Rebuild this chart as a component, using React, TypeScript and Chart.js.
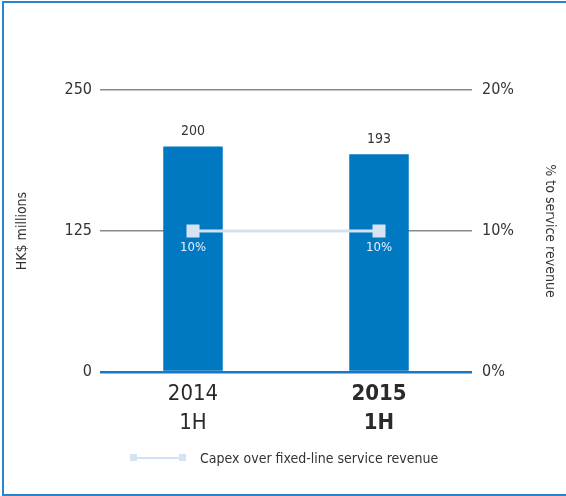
import React, { useEffect, useRef } from "react";
import { Chart, registerables } from "chart.js";

Chart.register(...registerables);

const categories: string[][] = [["2014", "1H"], ["2015", "1H"]];
const capexValues: number[] = [200, 193];
const ratioValues: number[] = [10, 10];
const leftTicks: number[] = [0, 125, 250];
const rightTicks: number[] = [0, 10, 20];
const leftTitle = "HK$ millions";
const rightTitle = "% to service revenue";
const legendLabel = "Capex over fixed-line service revenue";

const FONT = "'Liberation Sans Narrow', 'DejaVu Sans Condensed', 'Roboto', sans-serif";
const BLUE = "#0079c2";
const LINE = "#d3e1f2";
const TEXT = "#333333";

const labelPlugin = {
  id: "valueLabels",
  afterDatasetsDraw(chart: any) {
    const ctx = chart.ctx;
    ctx.save();
    const barMeta = chart.getDatasetMeta(0);
    ctx.fillStyle = TEXT;
    ctx.font = `14px ${FONT}`;
    ctx.textAlign = "center";
    ctx.textBaseline = "bottom";
    barMeta.data.forEach((el: any, i: number) => {
      ctx.fillText(String(capexValues[i]), el.x, el.y - 8);
    });
    const lineMeta = chart.getDatasetMeta(1);
    ctx.fillStyle = "#eaf2fb";
    ctx.font = `13px ${FONT}`;
    ctx.textBaseline = "middle";
    lineMeta.data.forEach((el: any, i: number) => {
      ctx.fillText(ratioValues[i] + "%", el.x, el.y + 17);
    });
    ctx.restore();
  },
};

export default function App() {
  const ref = useRef<HTMLCanvasElement | null>(null);
  useEffect(() => {
    if (!ref.current) return;
    const chart = new Chart(ref.current, {
      type: "bar",
      data: {
        labels: categories,
        datasets: [
          {
            type: "bar",
            label: "Capex",
            data: capexValues,
            backgroundColor: BLUE,
            barPercentage: 0.32,
            categoryPercentage: 1,
            yAxisID: "y",
            order: 1,
          },
          {
            type: "line",
            label: legendLabel,
            data: ratioValues,
            borderColor: LINE,
            borderWidth: 3,
            pointStyle: "rect",
            pointRadius: 9.2,
            pointBackgroundColor: "#d6e3f3",
            pointBorderWidth: 0,
            yAxisID: "y1",
            order: 0,
          } as any,
        ],
      },
      options: {
        responsive: false,
        animation: false,
        devicePixelRatio: 1,
        layout: { padding: { top: 90, left: 0, right: 0, bottom: 0 } },
        plugins: { legend: { display: false }, tooltip: { enabled: false } },
        scales: {
          x: {
            offset: true,
            grid: { display: false },
            border: { display: false },
            ticks: {
              color: "#2a2a2a",
              padding: 0,
              font: (c: any) => ({
                family: FONT,
                size: 22,
                lineHeight: 1.3,
                weight: c.index === 1 ? "bold" : "normal",
              }),
            },
            afterFit: (s: any) => {
              s.height = 124;
            },
          },
          y: {
            position: "left",
            min: 0,
            max: 250,
            afterBuildTicks: (s: any) => {
              s.ticks = leftTicks.map((v) => ({ value: v }));
            },
            grid: {
              drawTicks: false,
              color: (c: any) => (c.tick && c.tick.value === 0 ? "#1a78c2" : "#8a8a8a"),
              lineWidth: (c: any) => (c.tick && c.tick.value === 0 ? 2.5 : 1.5),
            },
            border: { display: false },
            ticks: {
              color: TEXT,
              padding: 8,
              font: { family: FONT, size: 16 },
            },
            title: {
              display: true,
              text: leftTitle,
              color: TEXT,
              font: { family: FONT, size: 14 },
              padding: { top: 14, bottom: 0 },
            },
            afterFit: (s: any) => {
              s.width = 100;
            },
          },
          y1: {
            position: "right",
            min: 0,
            max: 20,
            afterBuildTicks: (s: any) => {
              s.ticks = rightTicks.map((v) => ({ value: v }));
            },
            grid: { display: false, drawTicks: false },
            border: { display: false },
            ticks: {
              color: TEXT,
              padding: 10,
              font: { family: FONT, size: 16 },
              callback: (v: any) => v + "%",
            },
            title: {
              display: true,
              text: rightTitle,
              color: TEXT,
              font: { family: FONT, size: 14 },
              padding: { top: 8, bottom: 0 },
            },
            afterFit: (s: any) => {
              s.width = 94;
            },
          },
        },
      },
      plugins: [labelPlugin],
    });
    return () => chart.destroy();
  }, []);

  return (
    <div>
      <div
        style={{
          position: "fixed",
          left: 2,
          top: 1,
          width: 600,
          height: 495,
          boxSizing: "border-box",
          border: "2px solid #2a85cc",
        }}
      />
      <canvas
        ref={ref}
        width={566}
        height={496}
        style={{ position: "fixed", left: 0, top: 0, width: 566, height: 496 }}
      />
      <div
        style={{
          position: "fixed",
          left: 130,
          top: 447,
          height: 22,
          display: "flex",
          alignItems: "center",
          fontFamily: FONT,
          fontSize: 14,
          color: TEXT,
        }}
      >
        <div style={{ position: "relative", width: 56, height: 8 }}>
          <div style={{ position: "absolute", left: 0, top: 0, width: 7, height: 7, background: "#d6e3f3" }} />
          <div style={{ position: "absolute", left: 4, top: 2.5, width: 48, height: 2, background: LINE }} />
          <div style={{ position: "absolute", left: 49, top: 0, width: 7, height: 7, background: "#d6e3f3" }} />
        </div>
        <span style={{ marginLeft: 14, whiteSpace: "nowrap" }}>{legendLabel}</span>
      </div>
    </div>
  );
}
